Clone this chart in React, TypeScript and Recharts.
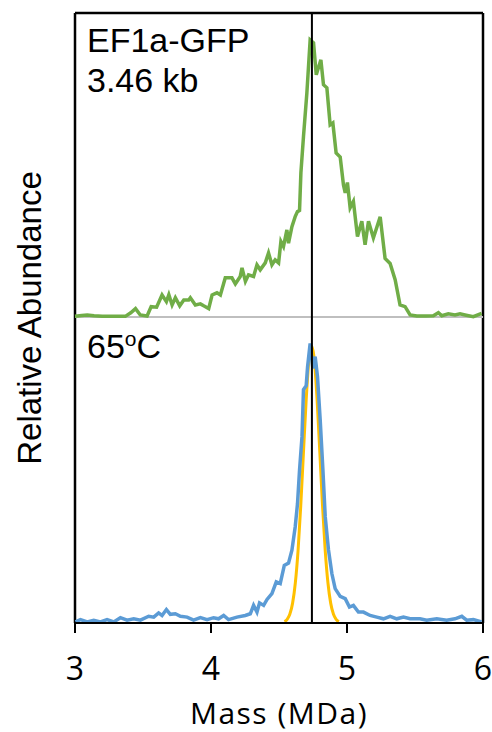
import { ComposedChart, Line, XAxis, YAxis, ReferenceLine } from 'recharts'

// Mass profiles, relative abundance normalised to the highest point of each trace.
const massTicks = [3, 4, 5, 6]
const markerMass = 4.742

const gfpProfile: [number, number][] = [
  [3.0, 0.002], [3.05, 0.005], [3.09, 0.007], [3.14, 0.004], [3.2, 0.002], [3.28, 0.002],
  [3.37, 0.002], [3.41, 0.015], [3.445, 0.03], [3.48, 0.007], [3.53, 0.003], [3.56, 0.037],
  [3.6, 0.035], [3.64, 0.079], [3.672, 0.055], [3.69, 0.08], [3.714, 0.043], [3.738, 0.069],
  [3.77, 0.04], [3.8, 0.061], [3.836, 0.061], [3.848, 0.069], [3.885, 0.043], [3.922, 0.047],
  [3.946, 0.04], [3.983, 0.03], [4.008, 0.079], [4.044, 0.087], [4.069, 0.079], [4.105, 0.141],
  [4.154, 0.141], [4.179, 0.119], [4.215, 0.146], [4.228, 0.177], [4.253, 0.128], [4.276, 0.152],
  [4.313, 0.146], [4.338, 0.188], [4.362, 0.17], [4.399, 0.195], [4.423, 0.231], [4.448, 0.188],
  [4.472, 0.206], [4.497, 0.195], [4.514, 0.272], [4.533, 0.254], [4.558, 0.314], [4.57, 0.266],
  [4.595, 0.326], [4.619, 0.362], [4.636, 0.38], [4.651, 0.384], [4.661, 0.52], [4.68, 0.651],
  [4.705, 0.809], [4.729, 1.0], [4.754, 0.989], [4.774, 0.874], [4.808, 0.928], [4.827, 0.838],
  [4.852, 0.827], [4.876, 0.693], [4.896, 0.7], [4.92, 0.592], [4.95, 0.577], [4.974, 0.476],
  [4.987, 0.448], [5.003, 0.485], [5.023, 0.394], [5.047, 0.417], [5.077, 0.29], [5.109, 0.345],
  [5.133, 0.26], [5.158, 0.345], [5.194, 0.285], [5.244, 0.361], [5.28, 0.211], [5.317, 0.193],
  [5.354, 0.134], [5.39, 0.043], [5.427, 0.037], [5.464, 0.007], [5.513, 0.003], [5.58, 0.003],
  [5.635, 0.004], [5.672, 0.015], [5.697, 0.004], [5.745, 0.011], [5.794, 0.007], [5.831, 0.011],
  [5.868, 0.007], [5.929, 0.001], [5.99, 0.013],
]

const heatedProfile: [number, number][] = [
  [3.004, 0.004], [3.04, 0.012], [3.09, 0.004], [3.138, 0.01], [3.187, 0.004], [3.236, 0.012],
  [3.285, 0.004], [3.334, 0.019], [3.383, 0.01], [3.432, 0.015], [3.481, 0.01], [3.542, 0.024],
  [3.579, 0.021], [3.615, 0.036], [3.64, 0.027], [3.672, 0.048], [3.701, 0.031], [3.738, 0.033],
  [3.775, 0.024], [3.824, 0.021], [3.872, 0.01], [3.922, 0.019], [3.971, 0.012], [4.019, 0.019],
  [4.056, 0.015], [4.093, 0.027], [4.129, 0.012], [4.191, 0.021], [4.252, 0.027], [4.289, 0.033],
  [4.313, 0.063], [4.338, 0.039], [4.357, 0.072], [4.387, 0.063], [4.412, 0.084], [4.448, 0.105],
  [4.48, 0.147], [4.509, 0.141], [4.539, 0.206], [4.57, 0.214], [4.595, 0.26], [4.619, 0.343],
  [4.636, 0.426], [4.651, 0.546], [4.669, 0.665], [4.68, 0.834], [4.7, 0.848], [4.71, 0.915],
  [4.729, 0.999], [4.749, 0.91], [4.766, 0.952], [4.783, 0.88], [4.803, 0.725], [4.823, 0.546],
  [4.84, 0.379], [4.864, 0.261], [4.889, 0.176], [4.913, 0.123], [4.95, 0.095], [4.987, 0.087],
  [5.018, 0.057], [5.047, 0.063], [5.084, 0.039], [5.121, 0.039], [5.17, 0.027], [5.219, 0.021],
  [5.268, 0.015], [5.317, 0.024], [5.366, 0.015], [5.415, 0.021], [5.464, 0.015], [5.537, 0.015],
  [5.586, 0.01], [5.66, 0.015], [5.733, 0.01], [5.794, 0.015], [5.844, 0.024], [5.88, 0.01],
  [5.929, 0.012], [5.99, 0.004],
]

// gaussian fit of the 65C peak
const fitProfile: [number, number][] = [
  [4.54, 0.005], [4.56, 0.013], [4.58, 0.032], [4.6, 0.071], [4.62, 0.143], [4.64, 0.258],
  [4.66, 0.419], [4.68, 0.611], [4.7, 0.799], [4.72, 0.939], [4.74, 0.99], [4.76, 0.939],
  [4.78, 0.799], [4.8, 0.611], [4.82, 0.419], [4.84, 0.258], [4.86, 0.143], [4.88, 0.071],
  [4.9, 0.032], [4.92, 0.013], [4.94, 0.005],
]

const toRows = (pts: [number, number][]) => pts.map(([mass, value]) => ({ mass, value }))

const sans = '"Liberation Sans", Arial, sans-serif'
const axisFont = '"Open Sans", sans-serif'

const TOP_DOMAIN: [number, number] = [-1.105, 1.097]
const BOTTOM_DOMAIN: [number, number] = [0, 2.18]

export default function App() {
  return (
    <div style={{ position: 'absolute', left: 0, top: 0 }}>
      <ComposedChart width={492} height={732} margin={{ top: 13, right: 9, bottom: 49, left: 75 }}>
        <XAxis
          type="number"
          dataKey="mass"
          domain={[3, 6]}
          ticks={massTicks}
          height={60}
          tickSize={10}
          tickMargin={24}
          tickLine={{ stroke: '#000', strokeWidth: 2 }}
          axisLine={{ stroke: '#000', strokeWidth: 2 }}
          tick={{ fontSize: 32, fill: '#000', fontFamily: axisFont }}
          label={{
            value: 'Mass (MDa)',
            position: 'bottom',
            offset: 20,
            fontSize: 30,
            fill: '#000',
            fontFamily: axisFont,
            letterSpacing: 1.5,
          }}
        />
        <YAxis yAxisId="bottom" type="number" domain={BOTTOM_DOMAIN} allowDataOverflow hide />
        <YAxis yAxisId="top" type="number" domain={TOP_DOMAIN} allowDataOverflow hide />
        {/* frame: left, right, top */}
        <ReferenceLine yAxisId="bottom" x={3} stroke="#000" strokeWidth={2.5} />
        <ReferenceLine yAxisId="bottom" x={6} stroke="#000" strokeWidth={2.5} />
        <ReferenceLine yAxisId="top" y={TOP_DOMAIN[1]} stroke="#000" strokeWidth={2.5} />
        <ReferenceLine yAxisId="top" y={0} stroke="#bfbfbf" strokeWidth={2} />
        <Line
          yAxisId="top"
          data={toRows(gfpProfile)}
          dataKey="value"
          type="linear"
          stroke="#70ad47"
          strokeWidth={3.5}
          dot={false}
          isAnimationActive={false}
        />
        <Line
          yAxisId="bottom"
          data={toRows(fitProfile)}
          dataKey="value"
          type="monotone"
          stroke="#ffc000"
          strokeWidth={3}
          dot={false}
          isAnimationActive={false}
        />
        <Line
          yAxisId="bottom"
          data={toRows(heatedProfile)}
          dataKey="value"
          type="linear"
          stroke="#5b9bd5"
          strokeWidth={3.5}
          dot={false}
          isAnimationActive={false}
        />
        <ReferenceLine yAxisId="bottom" x={markerMass} stroke="#000" strokeWidth={2} />
        <text
          x={29}
          y={318}
          transform="rotate(-90 29 318)"
          textAnchor="middle"
          dominantBaseline="central"
          fontSize={33}
          fontFamily={sans}
          fill="#000"
        >
          Relative Abundance
        </text>
        <text x={87} y={52} fontSize={34} fontFamily={sans} fill="#000">
          EF1a-GFP
        </text>
        <text x={87} y={92} fontSize={34} fontFamily={sans} fill="#000">
          3.46 kb
        </text>
        <text x={87} y={358} fontSize={34} fontFamily={sans} fill="#000">
          65
          <tspan fontSize={21} dy={-12}>o</tspan>
          <tspan dy={12}>C</tspan>
        </text>
      </ComposedChart>
    </div>
  )
}
